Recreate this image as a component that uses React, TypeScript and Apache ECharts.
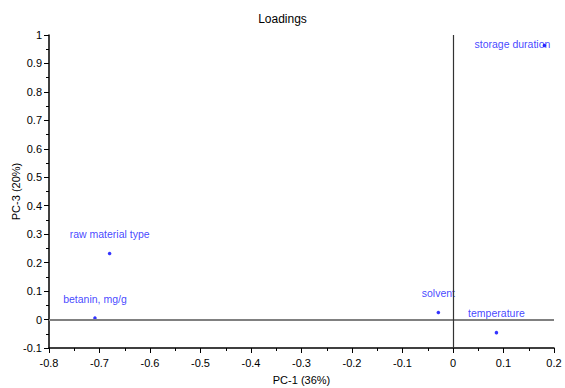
import React, { useEffect, useRef } from "react";
import * as echarts from "echarts";

const variables = ["storage duration", "raw material type", "betanin, mg/g", "solvent", "temperature"];
const pc1 = [0.181, -0.68, -0.709, -0.029, 0.086];
const pc3 = [0.963, 0.232, 0.005, 0.025, -0.046];
const labelOffsets: [number, number][] = [[-32, 18], [0, 0], [0, 0], [0, 0], [0, 0]];

export default function App() {
  const ref = useRef<HTMLDivElement>(null);
  useEffect(() => {
    if (!ref.current) return;
    const chart = echarts.init(ref.current, null, { renderer: "svg" });
    const font = "'Liberation Sans', Arial, sans-serif";
    chart.setOption({
      animation: false,
      backgroundColor: "#ffffff",
      title: {
        text: "Loadings",
        left: "center",
        top: 8,
        textStyle: { fontSize: 12, fontWeight: "normal", color: "#000", fontFamily: font },
      },
      grid: { left: 49, right: 11, top: 35, bottom: 40, containLabel: false, outerBoundsMode: "none" },
      xAxis: {
        type: "value",
        min: -0.8,
        max: 0.2,
        interval: 0.1,
        name: "PC-1 (36%)",
        nameLocation: "middle",
        nameGap: 26,
        nameTextStyle: { fontSize: 11, color: "#000", fontFamily: font },
        axisLine: { onZero: false, lineStyle: { color: "#000", width: 1.5 } },
        axisTick: { length: 5, lineStyle: { color: "#000" } },
        minorTick: { show: true, splitNumber: 2, length: 3, lineStyle: { color: "#000" } },
        axisLabel: { fontSize: 11, color: "#000", fontFamily: font, margin: 9 },
        splitLine: { show: false },
      },
      yAxis: {
        type: "value",
        min: -0.1,
        max: 1,
        interval: 0.1,
        name: "PC-3 (20%)",
        nameLocation: "middle",
        nameGap: 28,
        nameMoveOverlap: false,
        nameTextStyle: { fontSize: 11, color: "#000", fontFamily: font },
        axisLine: { onZero: false, lineStyle: { color: "#000", width: 1.5 } },
        axisTick: { length: 5, lineStyle: { color: "#000" } },
        minorTick: { show: true, splitNumber: 2, length: 3, lineStyle: { color: "#000" } },
        axisLabel: { fontSize: 11, color: "#000", fontFamily: font, margin: 7 },
        splitLine: { show: false },
      },
      series: [
        {
          type: "scatter",
          symbol: "circle",
          symbolSize: 3.5,
          itemStyle: { color: "#0000ff" },
          data: variables.map((name, i) => ({
            name,
            value: [pc1[i], pc3[i]],
            label: { offset: labelOffsets[i] },
          })),
          label: {
            show: true,
            position: "top",
            distance: 12,
            formatter: (p: any) => p.name,
            color: "#1010ff",
            fontSize: 10.5,
            fontFamily: font,
          },
          markLine: {
            silent: true,
            symbol: "none",
            label: { show: false },
            data: [
              { yAxis: 0, lineStyle: { color: "#808080", width: 1.8, type: "solid" } },
              { xAxis: 0, lineStyle: { color: "#333333", width: 1.2, type: "solid" } },
            ],
          },
        },
      ],
    });
    return () => chart.dispose();
  }, []);
  return (
    <div
      ref={ref}
      style={{ position: "fixed", left: 0, top: 0, width: 565, height: 388, background: "#fff" }}
    />
  );
}
